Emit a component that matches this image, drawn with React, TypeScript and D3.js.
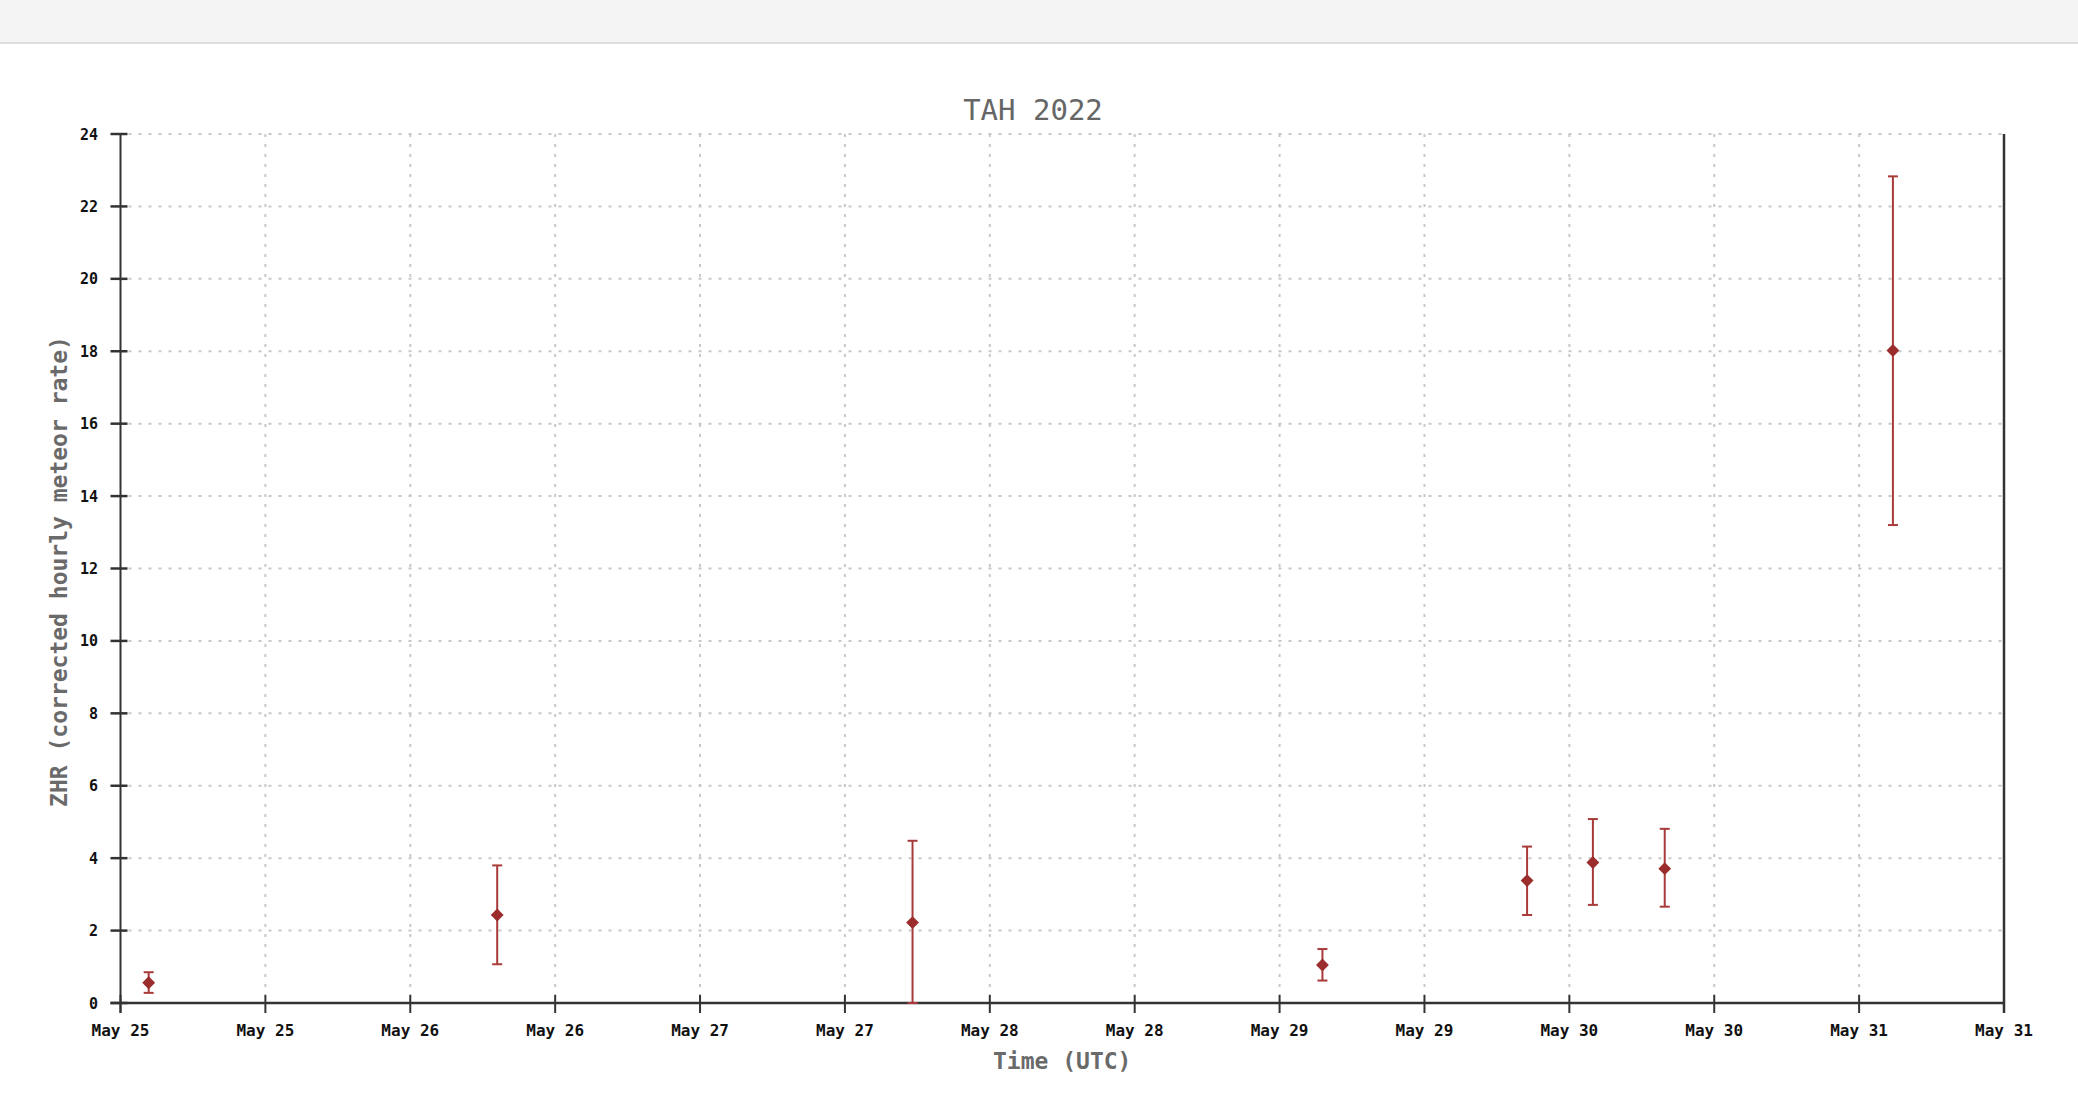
import React, { useEffect, useRef } from 'react';
import * as d3 from 'd3';

// Observation times (UTC) and ZHR values with error bounds
const times = [
  '2022-05-25T02:20:00Z',
  '2022-05-26T07:12:00Z',
  '2022-05-27T17:36:00Z',
  '2022-05-29T03:33:00Z',
  '2022-05-29T20:30:00Z',
  '2022-05-30T01:57:00Z',
  '2022-05-30T07:54:00Z',
  '2022-05-31T02:48:00Z',
];
const zhr = [0.56, 2.43, 2.22, 1.05, 3.38, 3.88, 3.71, 18.02];
const zhrLow = [0.28, 1.07, 0, 0.62, 2.43, 2.71, 2.66, 13.2];
const zhrHigh = [0.85, 3.8, 4.48, 1.49, 4.32, 5.08, 4.81, 22.83];

const xStart = '2022-05-25T00:00:00Z';
const xEnd = '2022-05-31T12:00:00Z';
const yTicks = [0, 2, 4, 6, 8, 10, 12, 14, 16, 18, 20, 22, 24];

const W = 2078;
const H = 1106;

const App: React.FC = () => {
  const svgRef = useRef<SVGSVGElement | null>(null);

  useEffect(() => {
    if (!svgRef.current) return;
    const svg = d3.select(svgRef.current);
    svg.selectAll('*').remove();

    const left = 120.5;
    const right = 2004;
    const top = 134;
    const bottom = 1003;
    const font = '"DejaVu Sans Mono", "Liberation Mono", monospace';

    // page header band
    svg.append('rect').attr('x', 0).attr('y', 0).attr('width', W).attr('height', 42).attr('fill', '#f4f4f4');
    svg.append('rect').attr('x', 0).attr('y', 42).attr('width', W).attr('height', 2).attr('fill', '#dedede');

    const x = d3.scaleUtc()
      .domain([new Date(xStart), new Date(xEnd)])
      .range([left, right]);
    const y = d3.scaleLinear().domain([0, 24]).range([bottom, top]);

    const xTicks = x.ticks(d3.utcHour.every(12)!);
    const fmt = d3.utcFormat('%b %d');

    // grid
    const grid = svg.append('g')
      .attr('stroke', '#c8c8c8')
      .attr('stroke-width', 2)
      .attr('stroke-dasharray', '3,7');
    grid.selectAll('.hg')
      .data(yTicks.filter(d => d > 0))
      .enter()
      .append('line')
      .attr('x1', left + 8)
      .attr('x2', right)
      .attr('y1', d => y(d))
      .attr('y2', d => y(d));
    grid.selectAll('.vg')
      .data(xTicks.slice(1, -1))
      .enter()
      .append('line')
      .attr('x1', d => x(d))
      .attr('x2', d => x(d))
      .attr('y1', top)
      .attr('y2', bottom - 8);

    // axes
    const axisColor = '#333';
    svg.append('line').attr('x1', left).attr('x2', left).attr('y1', top).attr('y2', bottom + 10)
      .attr('stroke', axisColor).attr('stroke-width', 2);
    svg.append('line').attr('x1', left - 10).attr('x2', right).attr('y1', bottom).attr('y2', bottom)
      .attr('stroke', axisColor).attr('stroke-width', 2.5);
    svg.append('line').attr('x1', right).attr('x2', right).attr('y1', top).attr('y2', bottom + 10)
      .attr('stroke', axisColor).attr('stroke-width', 2.5);

    // y ticks
    const yt = svg.append('g');
    yt.selectAll('line')
      .data(yTicks)
      .enter()
      .append('line')
      .attr('x1', left - 10)
      .attr('x2', left + 7)
      .attr('y1', d => y(d))
      .attr('y2', d => y(d))
      .attr('stroke', axisColor)
      .attr('stroke-width', 2.5);
    yt.selectAll('text')
      .data(yTicks)
      .enter()
      .append('text')
      .attr('x', 98)
      .attr('y', d => y(d) + 5.5)
      .attr('text-anchor', 'end')
      .attr('font-family', font)
      .attr('font-weight', 'bold')
      .attr('font-size', 15)
      .attr('fill', '#111')
      .text(d => String(d));

    // x ticks
    const xt = svg.append('g');
    xt.selectAll('line')
      .data(xTicks)
      .enter()
      .append('line')
      .attr('x1', d => x(d))
      .attr('x2', d => x(d))
      .attr('y1', bottom - 8)
      .attr('y2', bottom + 10)
      .attr('stroke', axisColor)
      .attr('stroke-width', 2);
    xt.selectAll('text')
      .data(xTicks)
      .enter()
      .append('text')
      .attr('x', d => x(d))
      .attr('y', 1036)
      .attr('text-anchor', 'middle')
      .attr('font-family', font)
      .attr('font-weight', 'bold')
      .attr('font-size', 16)
      .attr('fill', '#111')
      .text(d => fmt(d));

    // titles
    svg.append('text')
      .attr('x', 1033)
      .attr('y', 120)
      .attr('text-anchor', 'middle')
      .attr('font-family', font)
      .attr('font-size', 29)
      .attr('fill', '#666')
      .text('TAH 2022');
    svg.append('text')
      .attr('x', (left + right) / 2)
      .attr('y', 1069)
      .attr('text-anchor', 'middle')
      .attr('font-family', font)
      .attr('font-weight', 'bold')
      .attr('font-size', 23)
      .attr('fill', '#6a6a6a')
      .text('Time (UTC)');
    svg.append('text')
      .attr('transform', `translate(67,${(top + bottom) / 2 + 3}) rotate(-90)`)
      .attr('text-anchor', 'middle')
      .attr('font-family', font)
      .attr('font-weight', 'bold')
      .attr('font-size', 23)
      .attr('fill', '#6a6a6a')
      .text('ZHR (corrected hourly meteor rate)');

    // error bars and markers
    const pts = times.map((t, i) => ({ t: new Date(t), v: zhr[i], lo: zhrLow[i], hi: zhrHigh[i] }));
    const red = '#a93a3a';
    const eb = svg.append('g').attr('stroke', red).attr('stroke-width', 2);
    eb.selectAll('.bar')
      .data(pts)
      .enter()
      .append('line')
      .attr('x1', d => x(d.t))
      .attr('x2', d => x(d.t))
      .attr('y1', d => y(d.lo))
      .attr('y2', d => y(d.hi));
    eb.selectAll('.capl')
      .data(pts)
      .enter()
      .append('line')
      .attr('x1', d => x(d.t) - 5)
      .attr('x2', d => x(d.t) + 5)
      .attr('y1', d => y(d.lo))
      .attr('y2', d => y(d.lo));
    eb.selectAll('.caph')
      .data(pts)
      .enter()
      .append('line')
      .attr('x1', d => x(d.t) - 5)
      .attr('x2', d => x(d.t) + 5)
      .attr('y1', d => y(d.hi))
      .attr('y2', d => y(d.hi));

    const diamond = d3.symbol().type(d3.symbolDiamond2).size(105);
    svg.append('g')
      .selectAll('path')
      .data(pts)
      .enter()
      .append('path')
      .attr('d', diamond()!)
      .attr('transform', d => `translate(${x(d.t)},${y(d.v)})`)
      .attr('fill', '#9b2d2d');
  }, []);

  return (
    <div style={{ position: 'absolute', left: 0, top: 0, width: W, height: H, background: '#fff' }}>
      <svg ref={svgRef} width={W} height={H} />
    </div>
  );
};

export default App;
